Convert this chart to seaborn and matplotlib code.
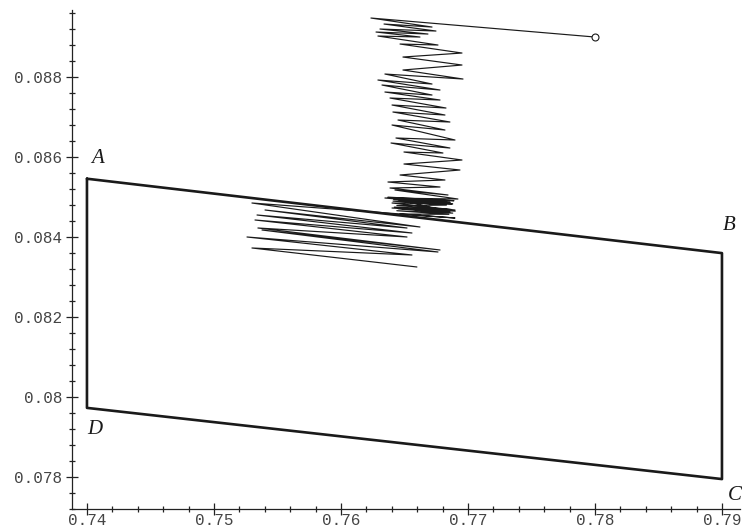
import numpy as np
import pandas as pd
import matplotlib
matplotlib.use("Agg")
import matplotlib.pyplot as plt
from matplotlib.ticker import FixedLocator, FixedFormatter, MultipleLocator
import seaborn as sns

# corners of the quadrilateral (A -> B -> C -> D -> A)
corner_names = ['A', 'B', 'C', 'D']
corner_x = [0.74, 0.79, 0.79, 0.74]
corner_y = [0.08545, 0.08359, 0.07794, 0.07972]

# iteration path, starting at the circled point
path_x = [0.78, 0.76236,
          0.76717, 0.76339, 0.76748, 0.76307, 0.76685, 0.76276, 0.76622, 0.76291,
          0.76764, 0.76465, 0.76953, 0.76488, 0.76953, 0.76488, 0.76961,
          0.76346, 0.76717, 0.76291, 0.76780, 0.76323, 0.76717, 0.76346, 0.76780,
          0.76386, 0.76827, 0.76402, 0.76819, 0.76409, 0.76858, 0.76449, 0.76819,
          0.76402, 0.76898, 0.76433, 0.76858, 0.76394, 0.76803, 0.76496, 0.76953,
          0.76496, 0.76937, 0.76465, 0.76819, 0.76370, 0.76780, 0.76386, 0.76843,
          0.76425, 0.76921, 0.76346, 0.76874, 0.76402, 0.76898, 0.76402, 0.76858,
          0.76370, 0.76890, 0.76394, 0.76860, 0.76418, 0.76880, 0.76410, 0.76830,
          0.76440, 0.76870, 0.76420, 0.76900, 0.76450, 0.76880, 0.76440, 0.76850,
          0.76465, 0.76898,
          0.75299, 0.76622, 0.75402, 0.76520, 0.75339, 0.76559, 0.75323, 0.76520,
          0.75346, 0.76780, 0.75378, 0.76764, 0.75260, 0.76559, 0.75299, 0.76598]
path_y = [0.088993, 0.089468,
          0.089243, 0.089318, 0.089143, 0.089193, 0.089068, 0.089118, 0.088993, 0.089018,
          0.088793, 0.088818, 0.088593, 0.088493, 0.088293, 0.088168, 0.087943,
          0.088068, 0.087818, 0.087918, 0.087668, 0.087793, 0.087543, 0.087618, 0.087418,
          0.087468, 0.087218, 0.087293, 0.087043, 0.087118, 0.086868, 0.086918, 0.086668,
          0.086793, 0.086418, 0.086468, 0.086218, 0.086343, 0.086093, 0.086118, 0.085918,
          0.085818, 0.085668, 0.085543, 0.085418, 0.085368, 0.085243, 0.085218, 0.085043,
          0.085168, 0.084943, 0.084968, 0.084818, 0.084843, 0.084668, 0.084718, 0.084618,
          0.084990, 0.084900, 0.084960, 0.084860, 0.084930, 0.084820, 0.084890, 0.084790,
          0.084780, 0.084680, 0.084740, 0.084640, 0.084700, 0.084590, 0.084650, 0.084560,
          0.084568, 0.084468,
          0.084843, 0.084243, 0.084668, 0.084218, 0.084543, 0.084093, 0.084418, 0.083993,
          0.084218, 0.083668, 0.084168, 0.083618, 0.083993, 0.083543, 0.083718, 0.083243]

x_ticks = [0.74, 0.75, 0.76, 0.77, 0.78, 0.79]
x_labels = ['0.74', '0.75', '0.76', '0.77', '0.78', '0.79']
y_ticks = [0.078, 0.08, 0.082, 0.084, 0.086, 0.088]
y_labels = ['0.078', '0.08', '0.082', '0.084', '0.086', '0.088']

sns.set_theme(style='white')

fig = plt.figure(figsize=(7.42, 5.28), dpi=100)
ax = fig.add_axes([0.097, 0.036, 0.9003, 0.945])

quad = pd.DataFrame({'x': corner_x + corner_x[:1], 'y': corner_y + corner_y[:1]})
sns.lineplot(data=quad, x='x', y='y', sort=False, estimator=None,
             color='#1a1a1a', linewidth=1.9, ax=ax)

path = pd.DataFrame({'x': path_x, 'y': path_y})
sns.lineplot(data=path, x='x', y='y', sort=False, estimator=None,
             color='#1a1a1a', linewidth=0.85, ax=ax)
ax.plot(path_x[0], path_y[0], marker='o', markersize=5, markerfacecolor='white',
        markeredgecolor='#1a1a1a', markeredgewidth=0.8)

# corner labels
label_dx = [0.0008, 0.0006, 0.0010, 0.0006]
label_dy = [0.00050, 0.0007, -0.00040, -0.00055]
for name, cx, cy, dx, dy in zip(corner_names, corner_x, corner_y, label_dx, label_dy):
    ax.text(cx + dx, cy + dy, name, fontsize=15, fontstyle='italic',
            family='Liberation Serif', ha='center', va='center', color='#1a1a1a')

ax.set_xlim(0.73882, 0.79142)
ax.set_ylim(0.077192, 0.089668)

for side in ['top', 'right']:
    ax.spines[side].set_visible(False)
for side in ['left', 'bottom']:
    ax.spines[side].set_color('#222222')
    ax.spines[side].set_linewidth(0.9)

ax.xaxis.set_major_locator(FixedLocator(x_ticks))
ax.xaxis.set_major_formatter(FixedFormatter(x_labels))
ax.xaxis.set_minor_locator(MultipleLocator(0.002))
ax.yaxis.set_major_locator(FixedLocator(y_ticks))
ax.yaxis.set_major_formatter(FixedFormatter(y_labels))
ax.yaxis.set_minor_locator(MultipleLocator(0.0004))

ax.tick_params(which='both', direction='inout', color='#222222', width=0.9,
               bottom=True, left=True, labelsize=11.5, labelcolor='#444444')
ax.tick_params(which='major', length=8)
ax.tick_params(which='minor', length=5)
ax.tick_params(axis='x', which='major', pad=-1)
ax.tick_params(axis='y', which='major', pad=3)
for lab in ax.get_xticklabels() + ax.get_yticklabels():
    lab.set_family('Liberation Mono')

ax.set_xlabel('')
ax.set_ylabel('')
ax.grid(False)

fig.savefig('out.png', dpi=100)
